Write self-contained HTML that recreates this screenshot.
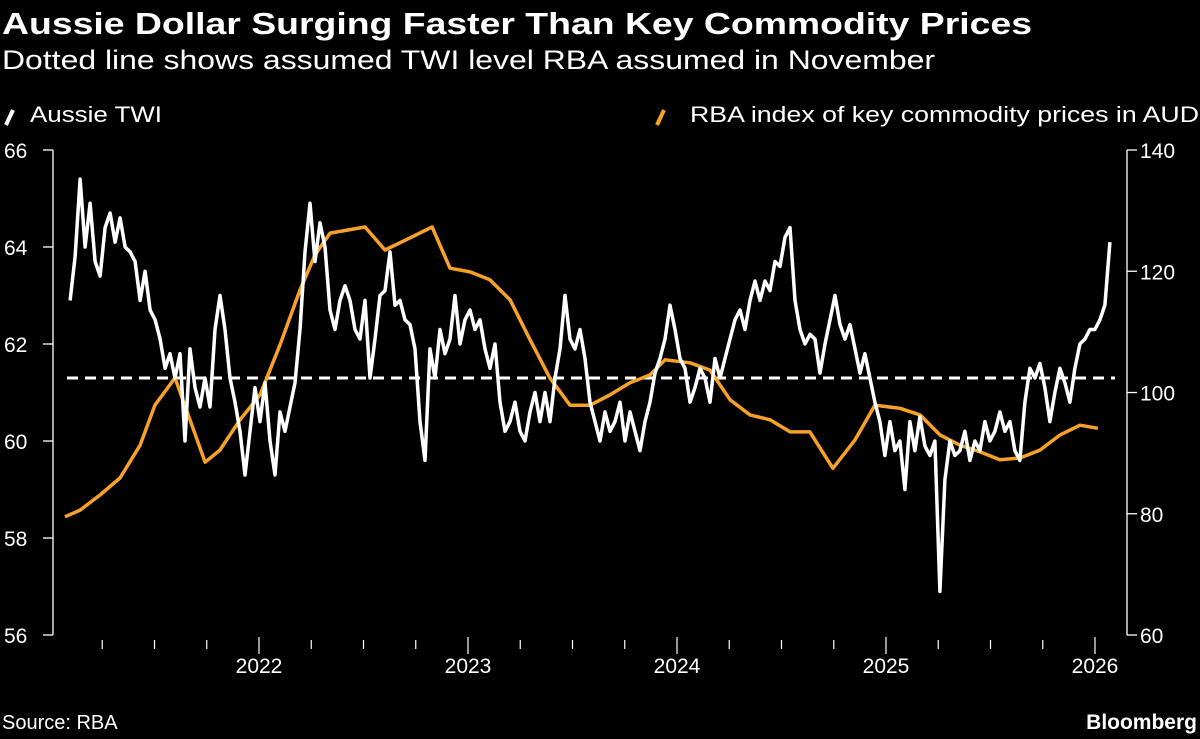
<!DOCTYPE html>
<html><head><meta charset="utf-8"><style>
html,body{margin:0;padding:0;background:#000;}
svg{display:block;font-family:"Liberation Sans Narrow","Liberation Sans",sans-serif;}
</style></head><body>
<svg id="chart" width="1200" height="739" viewBox="0 0 1200 739" xmlns="http://www.w3.org/2000/svg">
<rect width="1200" height="739" fill="#000"/>
<text x="2" y="34" fill="#fff" font-size="31" font-weight="bold" textLength="1030" lengthAdjust="spacingAndGlyphs">Aussie Dollar Surging Faster Than Key Commodity Prices</text>
<text x="2" y="69" fill="#fff" font-size="27" textLength="933" lengthAdjust="spacingAndGlyphs">Dotted line shows assumed TWI level RBA assumed in November</text>
<g>
<line x1="6" y1="125" x2="13" y2="110" stroke="#fff" stroke-width="4"/>
<text x="30" y="122" fill="#fff" font-size="22" textLength="132" lengthAdjust="spacingAndGlyphs">Aussie TWI</text>
</g>
<g>
<line x1="657" y1="125" x2="664" y2="110" stroke="#f7a128" stroke-width="4"/>
<text x="690" y="122" fill="#fff" font-size="22" textLength="509" lengthAdjust="spacingAndGlyphs">RBA index of key commodity prices in AUD</text>
</g>
<g id="axes"></g>
<g id="marks"></g>
<text x="2" y="729" fill="#fff" font-size="20">Source: RBA</text>
<text x="1197" y="729" fill="#fff" font-size="21" font-weight="bold" text-anchor="end">Bloomberg</text>
</svg>
<script>
const twiStart = 2021.096;
const twiStepYears = 0.02392;
const twiValues = [62.9,63.8,65.4,64.0,64.9,63.7,63.4,64.4,64.7,64.1,64.6,64.0,63.9,63.7,62.9,63.5,62.7,62.5,62.1,61.5,
61.8,61.3,61.8,60.0,61.9,61.1,60.7,61.3,60.7,62.3,63.0,62.3,61.3,60.8,60.2,59.3,60.2,61.1,60.4,61.2,
60.0,59.3,60.6,60.2,60.7,61.2,62.3,63.9,64.9,63.7,64.5,64.0,62.7,62.3,62.9,63.2,62.9,62.3,62.1,62.9,
61.3,62.1,63.0,63.1,63.9,62.8,62.9,62.5,62.4,61.9,60.4,59.6,61.9,61.3,62.3,61.8,62.1,63.0,62.0,62.5,
62.7,62.3,62.5,61.9,61.5,62.0,60.8,60.2,60.4,60.8,60.2,60.0,60.6,61.0,60.4,61.0,60.4,61.3,61.9,63.0,
62.1,61.9,62.3,61.7,60.8,60.4,60.0,60.6,60.2,60.4,60.8,60.0,60.6,60.2,59.8,60.4,60.8,61.4,61.7,62.1,
62.8,62.3,61.7,61.5,60.8,61.1,61.5,61.3,60.8,61.7,61.3,61.7,62.1,62.5,62.7,62.3,62.9,63.3,62.9,63.3,
63.1,63.7,63.6,64.2,64.4,62.9,62.3,62.0,62.2,62.1,61.4,62.0,62.5,63.0,62.4,62.1,62.4,61.9,61.4,61.8,
61.3,60.8,60.4,59.7,60.4,59.8,60.0,59.0,60.4,59.8,60.5,59.9,59.7,60.0,56.9,59.2,60.0,59.7,59.8,60.2,
59.6,60.0,59.8,60.4,60.0,60.2,60.6,60.2,60.4,59.8,59.6,60.8,61.5,61.3,61.6,61.1,60.4,61.0,61.5,61.2,
60.8,61.5,62.0,62.1,62.3,62.3,62.5,62.8,64.1];
const rbaAssumedTwi = 61.3;
const commodityDates = [2021.072,2021.144,2021.239,2021.335,2021.431,2021.502,2021.598,2021.670,2021.742,2021.813,2021.909,
2022.005,2022.100,2022.196,2022.268,2022.340,2022.507,2022.603,2022.722,2022.828,2022.914,
2023.010,2023.105,2023.201,2023.297,2023.392,2023.488,2023.584,2023.679,2023.775,2023.871,2023.943,
2024.062,2024.158,2024.254,2024.349,2024.445,2024.541,2024.636,2024.746,2024.852,2024.947,
2025.067,2025.163,2025.258,2025.354,2025.450,2025.545,2025.641,2025.737,2025.833,2025.928,2026.014];
const commodityValues = [79.5,80.6,83.1,85.9,91.3,97.9,102.4,95.5,88.5,90.5,95.5,
99.6,107.8,116.9,122.7,126.3,127.3,123.5,125.5,127.3,120.5,
119.9,118.6,115.3,108.7,102.4,97.9,97.9,99.6,101.6,102.9,105.4,
104.9,103.7,98.8,96.3,95.5,93.5,93.5,87.5,92.2,97.9,
97.4,96.3,93.0,91.3,90.2,88.9,89.2,90.5,93.0,94.6,94.1];
const leftTicks = [66,64,62,60,58,56];
const rightTicks = [140,120,100,80,60];
const yearTicks = [2022,2023,2024,2025,2026];

const NS = "http://www.w3.org/2000/svg";
const plotTop = 150, plotBottom = 635, leftAxisX = 53, rightAxisX = 1127;
const xScale = y => 259 + (y - 2022) * 209;
const yLeft = v => plotTop + (66 - v) * (plotBottom - plotTop) / 10;
const yRight = v => plotTop + (140 - v) * (plotBottom - plotTop) / 80;
function mk(tag, attrs, parent){const e=document.createElementNS(NS,tag);for(const k in attrs)e.setAttribute(k,attrs[k]);parent.appendChild(e);return e;}
const axes = document.getElementById('axes');
const marks = document.getElementById('marks');

const la = mk('line',{x1:leftAxisX,y1:plotTop,x2:leftAxisX,y2:plotBottom,stroke:'#fff','stroke-width':1.3},axes);


leftTicks.forEach(t=>{
  const y=yLeft(t);
  mk('line',{x1:leftAxisX-10,y1:y,x2:leftAxisX,y2:y,stroke:'#fff','stroke-width':1.3},axes);
  const tx=mk('text',{x:4,y:y+8,fill:'#fff','font-size':21},axes);
  tx.textContent=t;
  
  
});
const ra = mk('line',{x1:rightAxisX,y1:plotTop,x2:rightAxisX,y2:plotBottom,stroke:'#fff','stroke-width':1.3},axes);


rightTicks.forEach(t=>{
  const y=yRight(t);
  mk('line',{x1:rightAxisX,y1:y,x2:rightAxisX+10,y2:y,stroke:'#fff','stroke-width':1.3},axes);
  const tx=mk('text',{x:1140,y:y+8,fill:'#fff','font-size':21},axes);
  tx.textContent=t;
  
  
});
for(let q=2021.25;q<=2026.01;q+=0.25){
  const x=xScale(q);
  const major=Math.abs(q-Math.round(q))<0.01;
  mk('line',{x1:x,y1:major?637:640,x2:x,y2:major?654:649,stroke:'#fff','stroke-width':1.2},axes);
}
yearTicks.forEach(yr=>{
  const tx=mk('text',{x:xScale(yr),y:673,fill:'#fff','font-size':21,'text-anchor':'middle'},axes);
  tx.textContent=yr;
  
  
});

const dash=mk('line',{x1:leftAxisX+14,y1:yLeft(rbaAssumedTwi),x2:1115,y2:yLeft(rbaAssumedTwi),stroke:'#fff','stroke-width':3,'stroke-dasharray':'11 7'},marks);



const cp=commodityDates.map((d,i)=>xScale(d).toFixed(1)+','+yRight(commodityValues[i]).toFixed(1)).join(' ');
const cl=mk('polyline',{points:cp,fill:'none',stroke:'#f7a128','stroke-width':3.5,'stroke-linejoin':'round'},marks);



const tp=twiValues.map((v,i)=>xScale(twiStart+i*twiStepYears).toFixed(1)+','+yLeft(v).toFixed(1)).join(' ');
const tl=mk('polyline',{points:tp,fill:'none',stroke:'#fff','stroke-width':3.5,'stroke-linejoin':'round'},marks);


</script>
</body></html>
